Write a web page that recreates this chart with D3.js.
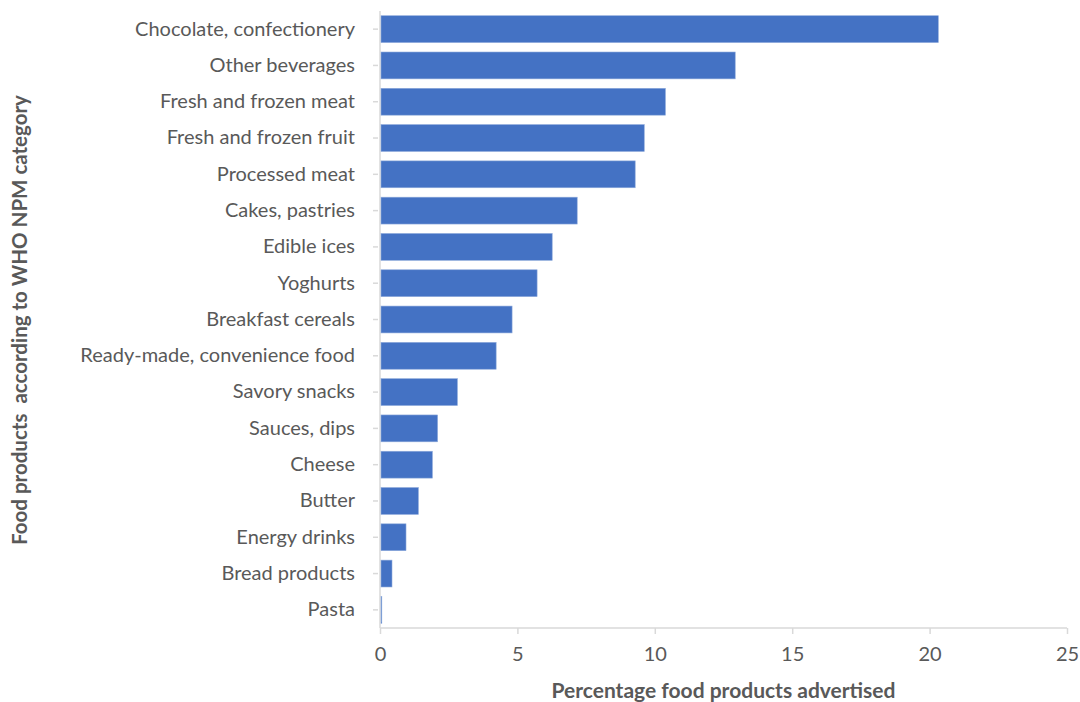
<!DOCTYPE html>
<html>
<head>
<meta charset="utf-8">
<script src="https://cdn.jsdelivr.net/npm/d3@7"></script>
<style>
  body { margin: 0; background: #fff; }
  svg text { font-family: Lato, "Open Sans", sans-serif; }
</style>
</head>
<body>
<div id="chart"></div>
<script>
// Share of advertised food products per WHO NPM category
const categories = [
    'Chocolate, confectionery', 'Other beverages', 'Fresh and frozen meat',
    'Fresh and frozen fruit', 'Processed meat', 'Cakes, pastries', 'Edible ices',
    'Yoghurts', 'Breakfast cereals', 'Ready-made, convenience food',
    'Savory snacks', 'Sauces, dips', 'Cheese', 'Butter', 'Energy drinks',
    'Bread products', 'Pasta'
];
const values = [20.28, 12.89, 10.35, 9.58, 9.25, 7.14, 6.23, 5.68, 4.77, 4.19,
    2.78, 2.06, 1.87, 1.36, 0.91, 0.40, 0.03];
const xTicks = [0, 5, 10, 15, 20, 25];

const data = categories.map((c, i) => ({category: c, value: values[i]}));

const width = 1080;
const height = 702;
const margin = {top: 11, right: 13, bottom: 74, left: 380};
const innerW = width - margin.left - margin.right;
const innerH = height - margin.top - margin.bottom;

const svg = d3.select('#chart')
    .append('svg')
    .attr('width', width)
    .attr('height', height);

const g = svg.append('g')
    .attr('transform', `translate(${margin.left},${margin.top})`);

const x = d3.scaleLinear()
    .domain([0, 25])
    .range([0, innerW]);

const y = d3.scaleBand()
    .domain(categories)
    .range([0, innerH])
    .paddingInner(0.26)
    .paddingOuter(0.13);

// y axis
const yAxis = g.append('g')
    .call(d3.axisLeft(y).tickSize(7).tickPadding(18));
yAxis.select('.domain').attr('stroke', '#d9d9d9').attr('stroke-width', 1.5)
    .attr('d', `M0,0V${innerH}`);
yAxis.selectAll('.tick line').attr('stroke', '#d9d9d9').attr('stroke-width', 1.5)
    .attr('x1', -7).attr('x2', -2);
yAxis.selectAll('.tick text')
    .attr('fill', '#595959')
    .style('font-size', '20px');

// x axis
const xAxis = g.append('g')
    .attr('transform', `translate(0,${innerH})`)
    .call(d3.axisBottom(x).tickValues(xTicks).tickSize(6).tickPadding(13));
xAxis.select('.domain').attr('stroke', '#d9d9d9').attr('stroke-width', 1.5)
    .attr('d', `M0,0H${innerW}`);
xAxis.selectAll('.tick line').attr('stroke', '#d9d9d9').attr('stroke-width', 1.5);
xAxis.selectAll('.tick text')
    .attr('fill', '#595959')
    .style('font-size', '20px');

// bars
g.selectAll('.bar')
    .data(data)
    .enter().append('rect')
    .attr('class', 'bar')
    .attr('x', x(0) + 1)
    .attr('y', d => y(d.category))
    .attr('width', d => Math.max(0.8, x(d.value) - x(0)))
    .attr('height', y.bandwidth())
    .attr('fill', '#4472c4')
    .attr('stroke', '#8eaadb')
    .attr('stroke-width', 0.6);

// axis titles
svg.append('text')
    .attr('x', margin.left + innerW / 2)
    .attr('y', 698)
    .attr('text-anchor', 'middle')
    .attr('fill', '#595959')
    .style('font-size', '21px')
    .style('font-weight', 'bold')
    .text('Percentage food products advertised');

svg.append('text')
    .attr('transform', `translate(27,${320}) rotate(-90)`)
    .attr('text-anchor', 'middle')
    .attr('fill', '#595959')
    .style('font-size', '20.5px')
    .style('font-weight', 'bold')
    .style('white-space', 'pre')
    .text('Food products  according to WHO NPM category');
</script>
</body>
</html>
